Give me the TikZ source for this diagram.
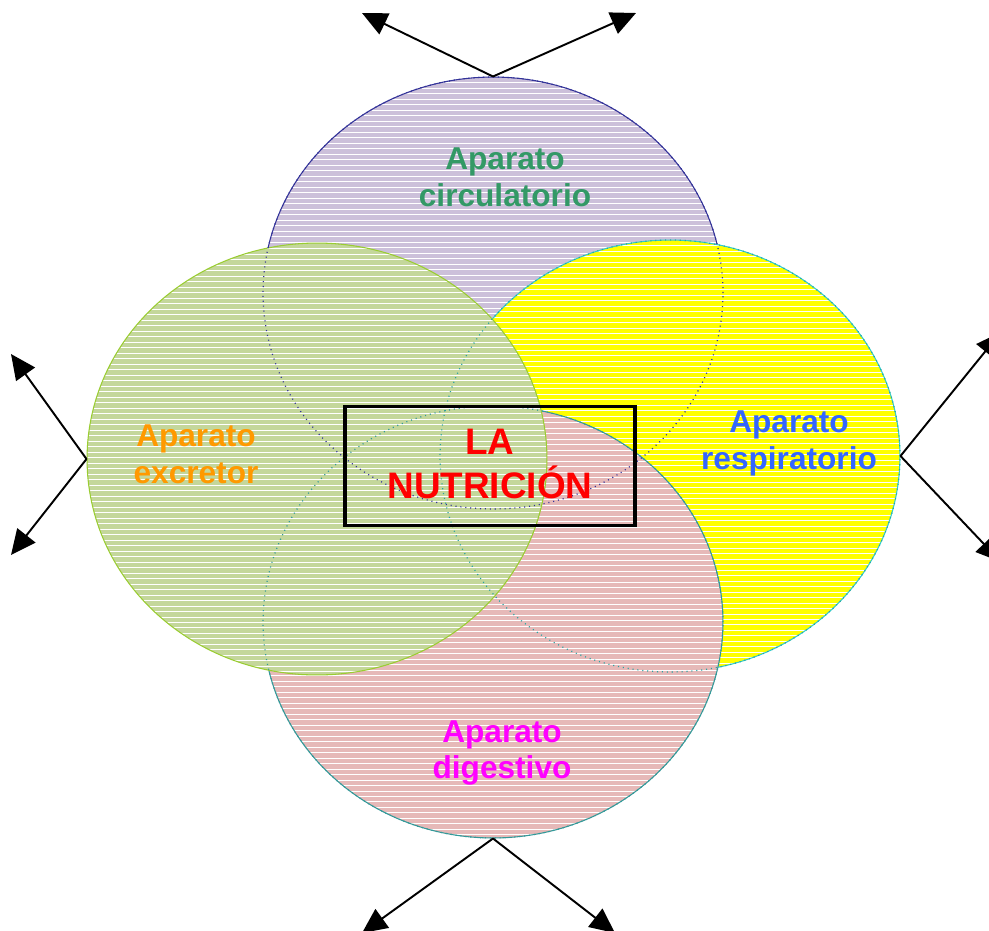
\documentclass[tikz,border=0pt]{standalone}
\usepackage{fontspec}
\setmainfont{Liberation Sans}
\usetikzlibrary{shapes.geometric,arrows.meta}
\definecolor{lilac}{HTML}{CCC0DA}
\definecolor{lilacline}{HTML}{333399}
\definecolor{olivefill}{HTML}{C4D79B}
\definecolor{oliveline}{HTML}{9ACD32}
\definecolor{yelfill}{HTML}{FFFF00}
\definecolor{yelline}{HTML}{33CCCC}
\definecolor{pinkfill}{HTML}{E6B9B8}
\definecolor{pinkline}{HTML}{339999}
\definecolor{txtgreen}{HTML}{339966}
\definecolor{txtorange}{HTML}{FF9900}
\definecolor{txtblue}{HTML}{3366FF}
\definecolor{txtmag}{HTML}{FF00FF}
\tikzset{
  blob/.style={ellipse, inner sep=0pt, minimum width=9.2cm, minimum height=8.64cm, line width=0.6pt,
    path picture={\foreach \k in {1,...,80}
      \draw[white, line width=0.55pt]
        ([yshift=-\k*0.11cm]path picture bounding box.north west) --
        ([yshift=-\k*0.11cm]path picture bounding box.north east);}},
  hidden/.style={dash pattern=on 0.6pt off 2.2pt, line width=0.7pt},
  lbl/.style={align=center, font=\bfseries\fontsize{18}{21}\selectfont},
  arr/.style={line width=1.1pt, -{Triangle[length=0.5cm, width=0.46cm]}}
}
\begin{document}
\begin{tikzpicture}[x=0.02cm, y=-0.02cm]
\useasboundingbox (0,0) rectangle (989,930);
\clip (0,0) rectangle (989,930);
% ellipses
\node[blob, fill=lilac, draw=lilacline] (circ) at (493,293) {};
\node[blob, fill=yelfill, draw=yelline] (resp) at (670,456) {};
\node[blob, fill=pinkfill, draw=pinkline] (dig) at (493,622) {};
\node[blob, fill=olivefill, draw=oliveline] (exc) at (317,459) {};
% hidden outlines
\draw[hidden, lilacline] (493,293) ellipse (4.6cm and 4.32cm);
\draw[hidden, yelline!80!black] (670,456) ellipse (4.6cm and 4.32cm);
\draw[hidden, pinkline] (493,622) ellipse (4.6cm and 4.32cm);
% labels
\node[lbl, text=txtgreen] (lcirc) at (505,177) {Aparato\\circulatorio};
\node[lbl, text=txtorange] (lexc) at (196,454) {Aparato\\excretor};
\node[lbl, text=txtblue] (lresp) at (789,443) {Aparato\\respiratorio};
\node[lbl, text=txtmag] (ldig) at (502,753) {Aparato\\digestivo};
% central box
\node[draw=black, line width=2.2pt, minimum width=5.8cm, minimum height=2.38cm, inner sep=0pt] (box) at (490,466) {};
\node[align=center, text=red, font=\bfseries\fontsize{21}{25.5}\selectfont] (title) at (490,464) {LA\\NUTRICIÓN};
% arrow tips
\coordinate (t1) at (362,13);
\coordinate (t2) at (636,13);
\coordinate (l1) at (11,354);
\coordinate (l2) at (11,555);
\coordinate (r1) at (1001,332);
\coordinate (r2) at (1001,562);
\coordinate (b1) at (362,933);
\coordinate (b2) at (615,933);
\draw[arr] (circ.north) -- (t1);
\draw[arr] (circ.north) -- (t2);
\draw[arr] (exc.west) -- (l1);
\draw[arr] (exc.west) -- (l2);
\draw[arr] (resp.east) -- (r1);
\draw[arr] (resp.east) -- (r2);
\draw[arr] (dig.south) -- (b1);
\draw[arr] (dig.south) -- (b2);
\end{tikzpicture}
\end{document}
